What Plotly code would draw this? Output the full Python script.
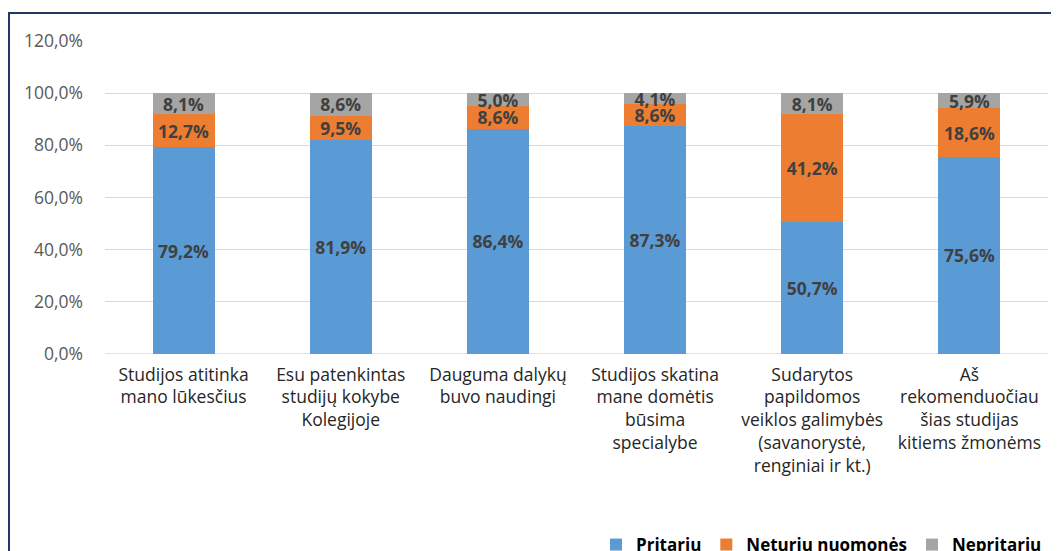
import plotly.graph_objects as go

categories = [
    "Studijos atitinka<br>mano lūkesčius",
    "Esu patenkintas<br>studijų kokybe<br>Kolegijoje",
    "Dauguma dalykų<br>buvo naudingi",
    "Studijos skatina<br>mane domėtis<br>būsima<br>specialybe",
    "Sudarytos<br>papildomos<br>veiklos galimybės<br>(savanorystė,<br>renginiai ir kt.)",
    "Aš<br>rekomenduočiau<br>šias studijas<br>kitiems žmonėms",
]
pritariu = [79.2, 81.9, 86.4, 87.3, 50.7, 75.6]
neturiu = [12.7, 9.5, 8.6, 8.6, 41.2, 18.6]
nepritariu = [8.1, 8.6, 5.0, 4.1, 8.1, 5.9]
series_names = ["Pritariu", "Neturiu nuomonės", "Nepritariu"]
colors = ["#5B9BD5", "#ED7D31", "#A5A5A5"]
y_ticks = [0, 20, 40, 60, 80, 100, 120]
y_tick_labels = ["0,0%", "20,0%", "40,0%", "60,0%", "80,0%", "100,0%", "120,0%"]

FONT = "Open Sans"
fig = go.Figure()
for name, vals, col in zip(series_names, [pritariu, neturiu, nepritariu], colors):
    fig.add_trace(go.Bar(
        x=categories, y=vals, name=name, marker=dict(color=col, line=dict(width=0)),
        texttemplate="%{y:.1f}%", textposition="inside", insidetextanchor="middle",
        constraintext="none", cliponaxis=False,
        textfont=dict(family=FONT, size=17.5, color="#404040", weight="bold"),
        hoverinfo="skip",
    ))

# page offset: the page body has an 8px margin, so page coordinate P -> figure P-8
OFF = 8
W, H = 1059 - OFF, 551 - OFF
L, T = 105 - OFF, 41 - OFF
R = W - (1048 - OFF)
B = H - (354 - OFF)
pw, ph = W - L - R, H - T - B

def px(x):
    return (x - OFF - L) / pw

def py(y):
    return (H - B - (y - OFF)) / ph

fig.update_layout(
    width=W, height=H, barmode="stack", bargap=0.605,
    separators=",.",
    margin=dict(l=L, r=R, t=T, b=B, pad=0, autoexpand=False),
    paper_bgcolor="white", plot_bgcolor="white",
    font=dict(family=FONT, size=16, color="#595959"),
    showlegend=True,
    legend=dict(orientation="h", x=px(596), y=py(545), xanchor="left", yanchor="middle",
                font=dict(family=FONT, size=17, color="#000000", weight="bold"),
                itemwidth=30, traceorder="normal"),
    xaxis=dict(showgrid=False, showline=False, ticks="", ticklabelstandoff=8,
               tickfont=dict(family=FONT, size=17.5, color="#262626")),
    yaxis=dict(range=[0, 120], tickvals=y_ticks, ticktext=y_tick_labels,
               showgrid=True, gridcolor="#D9D9D9", gridwidth=1.3, zeroline=False,
               showline=False, ticks="", ticklabelstandoff=21,
               tickfont=dict(family=FONT, size=17.5, color="#595959")),
    shapes=[dict(type="rect", xref="paper", yref="paper",
                 x0=px(9), x1=px(1075), y0=py(570), y1=py(13),
                 line=dict(color="#1F3864", width=2), fillcolor="rgba(0,0,0,0)", layer="below")],
)
fig.add_shape(type="line", xref="paper", yref="y", x0=0, x1=1, y0=0, y1=0,
              line=dict(color="#D9D9D9", width=1.3), layer="below")

fig.write_html("out.html")
